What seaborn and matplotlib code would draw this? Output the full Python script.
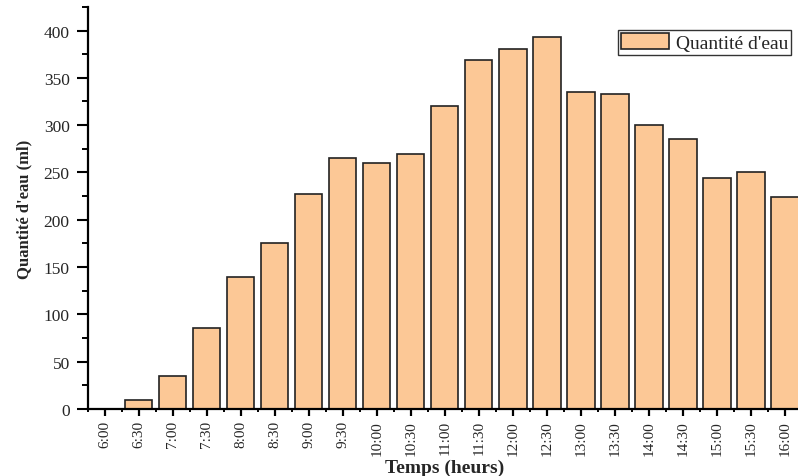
import matplotlib
matplotlib.use("Agg")
import matplotlib.pyplot as plt
from matplotlib.ticker import MultipleLocator, FixedLocator
import seaborn as sns
import pandas as pd

times = ["6:00", "6:30", "7:00", "7:30", "8:00", "8:30", "9:00", "9:30",
         "10:00", "10:30", "11:00", "11:30", "12:00", "12:30", "13:00",
         "13:30", "14:00", "14:30", "15:00", "15:30", "16:00"]
quantite = [0, 9, 35, 86, 139, 175, 227, 265, 260, 270, 320, 369, 380,
            393, 335, 333, 300, 285, 244, 250, 224]

df = pd.DataFrame({"Temps": times, "Quantite": quantite})

sns.set_theme(style="ticks")
plt.rcParams["font.family"] = ["Liberation Serif", "DejaVu Serif"]

fig = plt.figure(figsize=(7.98, 4.77), dpi=100)
ax = fig.add_axes([0.110, 0.1405, 0.895, 0.843])

sns.barplot(data=df, x="Temps", y="Quantite", color="#FCC896",
            saturation=1, edgecolor="#222222", linewidth=1.2, width=0.8,
            label="Quantité d'eau", ax=ax)

ax.set_xlim(-0.5, len(times) - 0.5)
ax.set_ylim(0, 425)
ax.yaxis.set_major_locator(MultipleLocator(50))
ax.yaxis.set_minor_locator(MultipleLocator(25))
ax.xaxis.set_minor_locator(FixedLocator([i + 0.5 for i in range(-1, len(times))]))

for side in ("top", "right"):
    ax.spines[side].set_visible(False)
for side in ("left", "bottom"):
    ax.spines[side].set_linewidth(1.6)
    ax.spines[side].set_color("black")

ax.tick_params(axis="y", which="major", direction="out", length=8,
               width=1.5, color="black", labelsize=12.5, pad=5)
ax.tick_params(axis="y", which="minor", direction="out", length=4,
               width=1.4, color="black")
ax.tick_params(axis="x", which="major", direction="out", length=5,
               width=1.6, color="black", labelsize=11, labelrotation=90, pad=3)
ax.tick_params(axis="x", which="minor", direction="out", length=2.5,
               width=1.4, color="black")

ax.set_xlabel("Temps (heurs)", fontsize=14, fontweight="bold", labelpad=3)
ax.set_ylabel("Quantité d'eau (ml)", fontsize=12, fontweight="bold", labelpad=8)

leg = ax.legend(loc="upper right", bbox_to_anchor=(0.985, 0.942),
                fontsize=14, frameon=True, fancybox=False,
                edgecolor="black", borderpad=0.15, handlelength=2.5,
                handleheight=0.9, handletextpad=0.35, borderaxespad=0)
leg.get_frame().set_linewidth(1.0)

fig.savefig("out.png", dpi=100)
